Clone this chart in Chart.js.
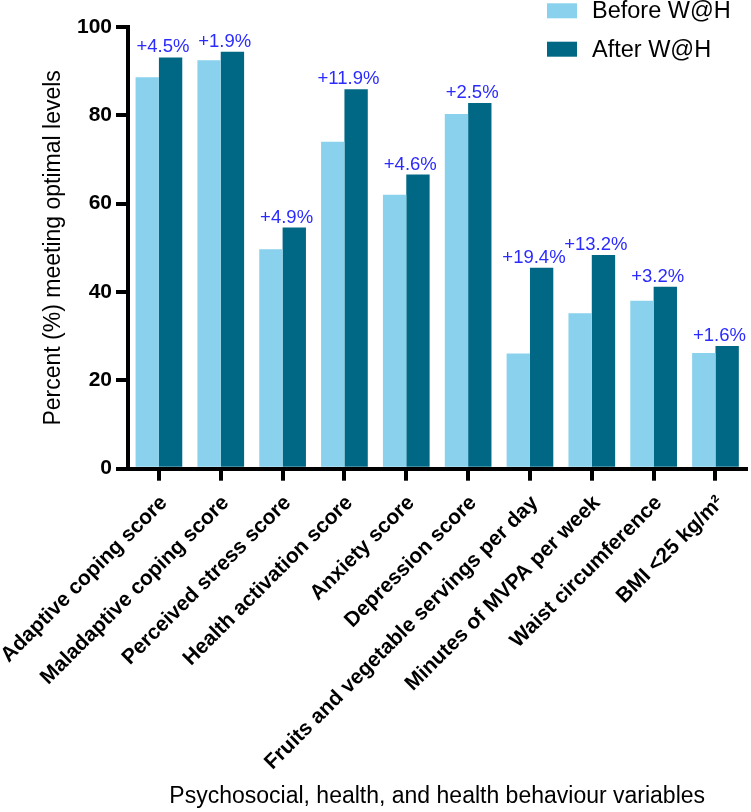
<!DOCTYPE html>
<html><head><meta charset="utf-8">
<script src="https://cdn.jsdelivr.net/npm/chart.js@4.4.0/dist/chart.umd.min.js"></script>
<style>html,body{margin:0;padding:0;background:#fff;} #wrap{position:relative;width:751px;height:812px;}</style>
</head><body><div id="wrap"><canvas id="c"></canvas></div>
<script>
const categories = [
  'Adaptive coping score',
  'Maladaptive coping score',
  'Perceived stress score',
  'Health activation score',
  'Anxiety score',
  'Depression score',
  'Fruits and vegetable servings per day',
  'Minutes of MVPA per week',
  'Waist circumference',
  'BMI <25 kg/m\u00B2'
];
const seriesNames = ['Before W@H', 'After W@H'];
const beforeValues = [88.6, 92.5, 49.7, 74.0, 62.0, 80.3, 26.1, 35.2, 38.0, 26.2];
const afterValues  = [93.1, 94.4, 54.6, 85.9, 66.6, 82.8, 45.5, 48.4, 41.2, 27.8];
const changeLabels = ['+4.5%', '+1.9%', '+4.9%', '+11.9%', '+4.6%', '+2.5%', '+19.4%', '+13.2%', '+3.2%', '+1.6%'];
const yTickValues = [0, 20, 40, 60, 80, 100];
const xTitle = 'Psychosocial, health, and health behaviour variables';
const yTitle = 'Percent (%) meeting optimal levels';

const FONT = "Arial, 'Liberation Sans', Helvetica, sans-serif";
const COLORS = ['#89d1ec', '#006884'];

const changePlugin = {
  id: 'changeLabels',
  afterDatasetsDraw(chart) {
    const ctx = chart.ctx;
    const m0 = chart.getDatasetMeta(0), m1 = chart.getDatasetMeta(1);
    ctx.save();
    ctx.font = '18.5px ' + FONT;
    ctx.fillStyle = '#2b2bff';
    ctx.textAlign = 'center';
    ctx.textBaseline = 'alphabetic';
    changeLabels.forEach((t, i) => {
      const b0 = m0.data[i], b1 = m1.data[i];
      const x = (b0.x + b1.x) / 2 + 4;
      const y = Math.min(b0.y, b1.y) - 5;
      ctx.fillText(t, x, y);
    });
    ctx.restore();
  }
};

const legendPlugin = {
  id: 'boxLegend',
  afterDraw(chart) {
    const ctx = chart.ctx;
    ctx.save();
    ctx.font = '23.5px ' + FONT;
    ctx.textBaseline = 'middle';
    ctx.textAlign = 'left';
    chart.data.datasets.forEach((ds, i) => {
      const cy = 10.8 + i * 38.4;
      ctx.fillStyle = ds.backgroundColor;
      ctx.fillRect(547, cy - 7.5, 30, 15);
      ctx.fillStyle = '#000';
      ctx.fillText(ds.label, 592, cy + 1);
    });
    ctx.restore();
  }
};

new Chart(document.getElementById('c'), {
  type: 'bar',
  data: {
    labels: categories,
    datasets: [
      { label: seriesNames[0], data: beforeValues, backgroundColor: COLORS[0], borderWidth: 0 },
      { label: seriesNames[1], data: afterValues, backgroundColor: COLORS[1], borderWidth: 0 }
    ]
  },
  options: {
    responsive: true,
    maintainAspectRatio: false,
    animation: false,
    devicePixelRatio: 1,
    layout: { padding: { top: 27, right: 4.6, left: 0, bottom: 0 } },
    plugins: { legend: { display: false }, tooltip: { enabled: false } },
    datasets: { bar: { categoryPercentage: 0.755, barPercentage: 1 } },
    scales: {
      x: {
        offset: true,
        grid: { display: true, drawOnChartArea: false, offset: false, tickLength: 12, lineWidth: 4, color: '#000' },
        border: { display: true, width: 4, color: '#000' },
        ticks: { font: { family: FONT, size: 21, weight: 'bold' }, color: '#000', maxRotation: 45, minRotation: 45, autoSkip: false, padding: 10, labelOffset: 5 },
        title: { display: true, text: xTitle, font: { family: FONT, size: 23 }, color: '#000', padding: { top: 0, bottom: 2 } },
        afterFit(s) { s.height = 343.3; s.paddingLeft = 0; s.paddingRight = 0; }
      },
      y: {
        min: 0, max: 100,
        afterBuildTicks(s) { s.ticks = yTickValues.map(v => ({ value: v })); },
        ticks: { font: { family: FONT, size: 21, weight: 'bold' }, color: '#000', padding: 4 },
        grid: { display: true, drawOnChartArea: false, tickLength: 12, lineWidth: 4, color: '#000' },
        border: { display: true, width: 4, color: '#000' },
        title: { display: true, text: yTitle, font: { family: FONT, size: 23 }, color: '#000', padding: { top: 40.2, bottom: 0 } },
        afterFit(s) { s.width = 128; s.paddingTop = 0; s.paddingBottom = 0; }
      }
    }
  },
  plugins: [changePlugin, legendPlugin]
});
</script>
</body></html>
